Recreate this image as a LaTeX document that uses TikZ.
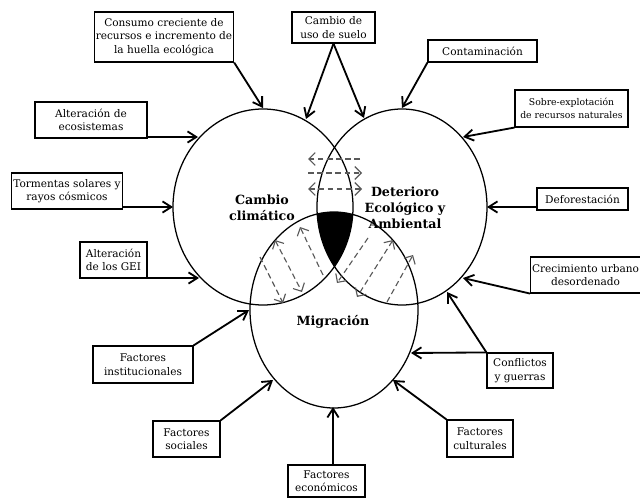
\documentclass[tikz,border=0pt]{standalone}
\usepackage{fontspec}
\setmainfont{DejaVu Serif}
\usetikzlibrary{arrows.meta}
\newcommand{\pxl}{0.7113pt}

\begin{document}
\begin{tikzpicture}[x=0.025cm, y=-0.025cm,
    box/.style={draw, line width=0.8pt, align=center, inner sep=1pt,
        font=\fontsize{7.5}{9.6}\selectfont},
    arr/.style={line width=1.3pt, -{Straight Barb[length=2.2mm, width=2.8mm]}},
    darr/.style={draw=black!65, line width=0.8pt, dash pattern=on 4pt off 2.5pt},
    lbl/.style={align=center, font=\fontsize{9}{11.4}\selectfont\bfseries}]
    \useasboundingbox (0,0) rectangle (640,499);

    % centres of the three circles
    \coordinate (cc) at (263,207);
    \coordinate (dea) at (402,207);
    \coordinate (mig) at (334,310);

    % overlap of all three
    \begin{scope}
        \clip (cc) ellipse [x radius=90, y radius=98];
        \clip (dea) ellipse [x radius=85, y radius=98];
        \fill (mig) ellipse [x radius=84, y radius=98];
    \end{scope}
    \draw[line width=0.9pt] (cc) ellipse [x radius=90, y radius=98];
    \draw[line width=0.9pt] (dea) ellipse [x radius=85, y radius=98];
    \draw[line width=0.9pt] (mig) ellipse [x radius=84, y radius=98];

    \node[lbl] (tcc) at (262,208) {Cambio\\climático};
    \node[lbl] (tdea) at (405,208) {Deterioro\\Ecológico y\\Ambiental};
    \node[lbl] (tmig) at (333,322) {Migración};

    % dashed exchanges
    \draw[darr, -{Straight Barb[length=1.6mm]}] (360,159) -- (308,159);
    \draw[darr, -{Straight Barb[length=1.6mm]}] (308,173) -- (362,173);
    \draw[darr, {Straight Barb[length=1.6mm]}-{Straight Barb[length=1.6mm]}] (308,189) -- (362,189);
    \draw[darr, -{Straight Barb[length=1.6mm]}] (260,257) -- (283,303);
    \draw[darr, {Straight Barb[length=1.6mm]}-{Straight Barb[length=1.6mm]}] (275,240) -- (302,292);
    \draw[darr, -{Straight Barb[length=1.6mm]}] (323,275) -- (300,227);
    \draw[darr, -{Straight Barb[length=1.6mm]}] (368,238) -- (337,283);
    \draw[darr, {Straight Barb[length=1.6mm]}-{Straight Barb[length=1.6mm]}] (393,240) -- (357,297);
    \draw[darr, -{Straight Barb[length=1.6mm]}] (387,302) -- (413,255);

    % factor boxes
    \node[box, minimum width=138*\pxl, minimum height=50*\pxl] (consumo) at (164,37) {Consumo creciente de\\recursos e incremento de\\la huella ecológica};
    \node[box, minimum width=83*\pxl, minimum height=31*\pxl] (suelo) at (333.5,27.5) {Cambio de\\uso de suelo};
    \node[box, minimum width=109*\pxl, minimum height=22*\pxl] (contam) at (482.5,51) {Contaminación};
    \node[box, minimum width=113*\pxl, minimum height=37*\pxl, font=\fontsize{6.6}{9}\selectfont] (sobre) at (571.5,108.5) {Sobre-explotación\\de recursos naturales};
    \node[box, minimum width=91*\pxl, minimum height=22*\pxl] (defor) at (582.5,199) {Deforestación};
    \node[box, minimum width=107*\pxl, minimum height=36*\pxl] (crec) at (585.5,275) {Crecimiento urbano\\desordenado};
    \node[box, minimum width=66*\pxl, minimum height=35*\pxl] (confl) at (520,370.5) {Conflictos\\y guerras};
    \node[box, minimum width=66*\pxl, minimum height=37*\pxl] (cult) at (480,438.5) {Factores\\culturales};
    \node[box, minimum width=77*\pxl, minimum height=32*\pxl] (econ) at (326.5,481) {Factores\\económicos};
    \node[box, minimum width=67*\pxl, minimum height=36*\pxl] (soc) at (186.5,439) {Factores\\sociales};
    \node[box, minimum width=100*\pxl, minimum height=37*\pxl] (inst) at (143,364.5) {Factores\\institucionales};
    \node[box, minimum width=67*\pxl, minimum height=36*\pxl] (gei) at (113.5,260) {Alteración\\de los GEI};
    \node[box, minimum width=110*\pxl, minimum height=36*\pxl] (torm) at (67,191) {Tormentas solares y\\rayos cósmicos};
    \node[box, minimum width=112*\pxl, minimum height=36*\pxl] (eco) at (91,120) {Alteración de\\ecosistemas};

    % where the arrows meet the circles
    \coordinate (p1) at (263,108);
    \coordinate (p2) at (306,119);
    \coordinate (p3) at (364,118);
    \coordinate (p4) at (402,108);
    \coordinate (p5) at (463,137);
    \coordinate (p6) at (487,207);
    \coordinate (p7) at (463,278);
    \coordinate (p8) at (447,292);
    \coordinate (p9) at (411,353);
    \coordinate (p10) at (393,380);
    \coordinate (p11) at (333,407);
    \coordinate (p12) at (273,380);
    \coordinate (p13) at (249,310);
    \coordinate (p14) at (199,278);
    \coordinate (p15) at (173,207);
    \coordinate (p16) at (198,137);

    \draw[arr] (consumo.south east) -- (p1);
    \draw[arr] (suelo.south) -- (p2);
    \draw[arr] (suelo.south) -- (p3);
    \draw[arr] (contam.south west) -- (p4);
    \draw[arr] (sobre.south west) -- (p5);
    \draw[arr] (defor.west |- p6) -- (p6);
    \draw[arr] (crec.south west) -- (p7);
    \draw[arr] (confl.north west) -- (p8);
    \draw[arr] (confl.north west) -- (p9);
    \draw[arr] (cult.north west) -- (p10);
    \draw[arr] (econ.north -| p11) -- (p11);
    \draw[arr] (soc.north east) -- (p12);
    \draw[arr] (inst.north east) -- (p13);
    \draw[arr] (gei.east |- p14) -- (p14);
    \draw[arr] (torm.east |- p15) -- (p15);
    \draw[arr] (eco.east |- p16) -- (p16);
\end{tikzpicture}
\end{document}
